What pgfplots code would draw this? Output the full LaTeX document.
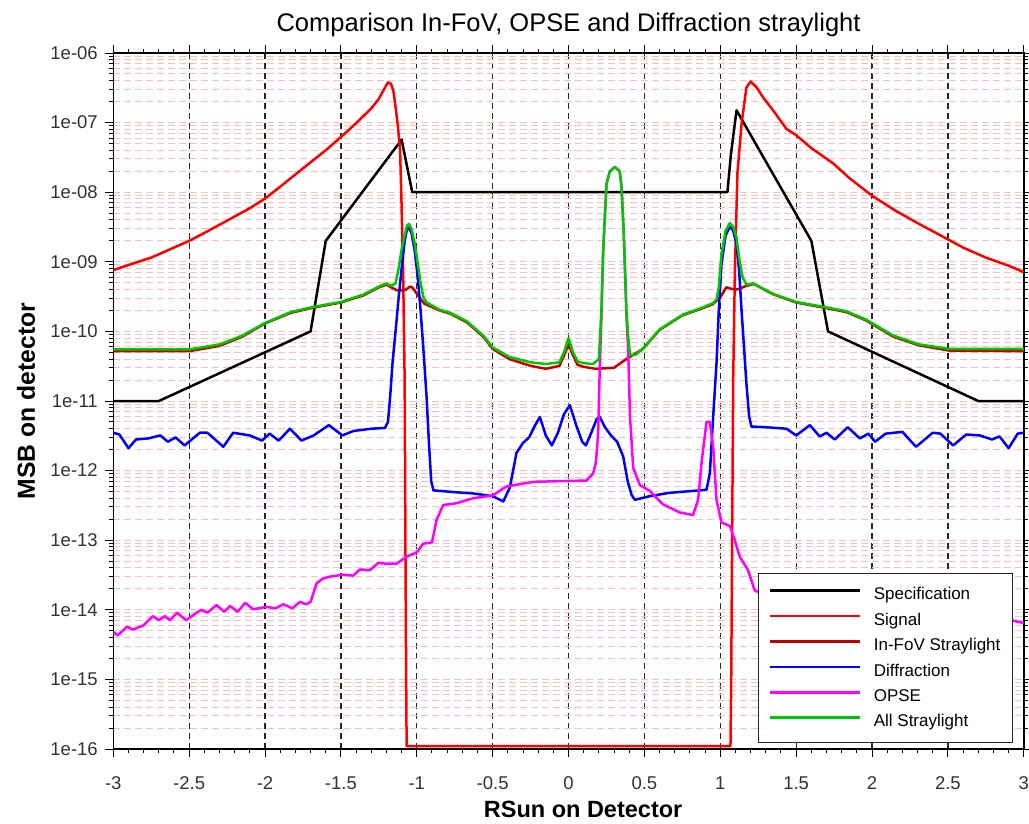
\documentclass[border=0pt]{standalone}
\usepackage{fontspec}
\setmainfont{Liberation Sans}
\usepackage{pgfplots}
\pgfplotsset{compat=1.18}
\definecolor{specc}{RGB}{0,0,0}
\definecolor{sigc}{RGB}{255,0,0}
\definecolor{infovc}{RGB}{200,0,0}
\definecolor{diffc}{RGB}{0,0,255}
\definecolor{opsec}{RGB}{255,0,255}
\definecolor{allc}{RGB}{0,200,0}
\definecolor{pinkgrid}{RGB}{255,190,190}
\definecolor{tickc}{RGB}{50,50,50}
\begin{document}
\begin{tikzpicture}[x=1pt,y=1pt]
\path[use as bounding box] (0,0) rectangle (1029,824);
\begin{axis}[
  at={(113.3pt,75pt)}, anchor=south west,
  scale only axis, width=910.5pt, height=696pt,
  xmin=-3, xmax=3, ymode=log, ymin=1e-16, ymax=1e-6,
  xtick={-3,-2.5,-2,-1.5,-1,-0.5,0,0.5,1,1.5,2,2.5,3},
  xticklabels={-3,-2.5,-2,-1.5,-1,-0.5,0,0.5,1,1.5,2,2.5,3},
  minor x tick num=4,
  ytick={1e-16,1e-15,1e-14,1e-13,1e-12,1e-11,1e-10,1e-9,1e-8,1e-7,1e-6},
  yticklabels={1e-16,1e-15,1e-14,1e-13,1e-12,1e-11,1e-10,1e-09,1e-08,1e-07,1e-06},
  tick align=outside, tick pos=both,
  major tick length=8pt, minor tick length=4pt,
  every tick/.style={black, line width=1pt},
  axis line style={black, line width=1.5pt},
  xmajorgrids, ymajorgrids, yminorgrids,
  major x grid style={black!85, dash pattern=on 6pt off 4pt, line width=1.2pt},
  major y grid style={pinkgrid, dash pattern=on 7pt off 4pt, line width=1pt},
  minor y grid style={pinkgrid, dash pattern=on 7pt off 4pt, line width=1pt},
  ticklabel style={font=\fontsize{18.5}{20}\selectfont, text=tickc},
  xticklabel style={anchor=base, yshift=-33pt},
  yticklabel style={anchor=east, xshift=-4pt},
  title={Comparison In-FoV, OPSE and Diffraction straylight},
  title style={at={(0.5,1)}, anchor=base, yshift=16pt, font=\fontsize{25.5}{28}\selectfont},
  xlabel={RSun on Detector},
  ylabel={MSB on detector},
  xlabel style={at={(0.516,-0.0977)}, anchor=base, font=\bfseries\fontsize{23.5}{26}\selectfont},
  ylabel style={at={(-0.086,0.5)}, anchor=base, font=\bfseries\fontsize{24.7}{27}\selectfont},
  legend style={at={(0.708,0.009)}, anchor=south west, draw=black!85, line width=1.2pt, fill=white,
    font=\fontsize{17}{20}\selectfont, inner xsep=10pt, inner ysep=12pt, row sep=7.7pt},
  legend cell align=left,
  legend image code/.code={\draw[#1, line width=2.6pt] (0pt,0.35em) -- (90pt,0.35em); \path[draw=none] (0pt,0.35em) -- (102pt,0.35em);},
  every axis plot post/.append style={line width=2.5pt, line join=round},
]
% Specification
\addplot[specc] coordinates {(-3,1e-11) (-2.7,1e-11) (-1.7,1e-10) (-1.6,2e-9) (-1.1,5.7e-8) (-1.03,1e-8) (1.047,1e-8) (1.07,3.5e-8) (1.107,1.5e-7) (1.6,2e-9) (1.71,1e-10) (2.7,1e-11) (3,1e-11)};
\addlegendentry{Specification}
% Signal
\addplot[sigc, line width=2.9pt] coordinates {(-3,7.6e-10) (-2.9,9e-10) (-2.75,1.15e-9) (-2.6,1.6e-9) (-2.5,2.0e-9) (-2.4,2.6e-9) (-2.25,3.9e-9) (-2.1,5.9e-9) (-2.0,8.1e-9) (-1.9,1.2e-8) (-1.75,2.2e-8) (-1.6,4e-8) (-1.5,6.2e-8) (-1.4,9.8e-8) (-1.3,1.6e-7) (-1.25,2.2e-7) (-1.22,2.9e-7) (-1.19,3.8e-7) (-1.17,3.6e-7) (-1.155,2.9e-7) (-1.14,1.7e-7) (-1.125,9e-8) (-1.11,4e-8) (-1.1,6e-9) (-1.09,7e-10) (-1.08,2e-11) (-1.075,1e-13) (-1.07,1e-15) (-1.067,1.1e-16) (1.067,1.1e-16) (1.072,1e-15) (1.078,1e-13) (1.085,2e-11) (1.096,7e-10) (1.113,1.9e-8) (1.14,9.5e-8) (1.172,3.2e-7) (1.2,3.9e-7) (1.24,3.2e-7) (1.282,2.3e-7) (1.348,1.5e-7) (1.436,8.1e-8) (1.5,6.6e-8) (1.6,4.3e-8) (1.743,2.6e-8) (1.85,1.6e-8) (2.0,8.9e-9) (2.15,5.5e-9) (2.3,3.6e-9) (2.5,2.1e-9) (2.6,1.6e-9) (2.75,1.15e-9) (2.9,8.8e-10) (3.0,7.1e-10)};
\addlegendentry{Signal}
% In-FoV Straylight
\addplot[infovc] coordinates {(-3,5.2e-11) (-2.5,5.2e-11) (-2.3,6.2e-11) (-2.15,8.4e-11) (-2.0,1.3e-10) (-1.83,1.85e-10) (-1.68,2.2e-10) (-1.5,2.6e-10) (-1.35,3.3e-10) (-1.25,4.3e-10) (-1.2,4.7e-10) (-1.16,4.2e-10) (-1.13,3.9e-10) (-1.1,3.9e-10) (-1.07,4.0e-10) (-1.045,4.4e-10) (-1.03,4.3e-10) (-1.0,3.5e-10) (-0.975,2.9e-10) (-0.95,2.5e-10) (-0.85,2.0e-10) (-0.78,1.8e-10) (-0.67,1.35e-10) (-0.56,8.3e-11) (-0.5,5.6e-11) (-0.39,4.0e-11) (-0.25,3.2e-11) (-0.15,2.9e-11) (-0.06,3.2e-11) (-0.03,4.5e-11) (0,6.5e-11) (0.03,4.5e-11) (0.06,3.3e-11) (0.1,3.1e-11) (0.18,2.9e-11) (0.3,3.0e-11) (0.38,4.0e-11) (0.49,5.6e-11) (0.6,1.05e-10) (0.75,1.7e-10) (0.87,2.1e-10) (0.95,2.45e-10) (1.0,3.1e-10) (1.04,4.3e-10) (1.07,4.1e-10) (1.11,4.0e-10) (1.17,4.5e-10) (1.22,4.8e-10) (1.35,3.4e-10) (1.5,2.6e-10) (1.68,2.2e-10) (1.83,1.9e-10) (1.96,1.44e-10) (2.14,8.4e-11) (2.31,6.3e-11) (2.51,5.3e-11) (3.0,5.2e-11)};
\addlegendentry{In-FoV Straylight}
% Diffraction
\addplot[diffc, line width=2.9pt] coordinates {(-3,3.5e-12) (-2.96,3.3e-12) (-2.90,2.1e-12) (-2.85,2.8e-12) (-2.77,2.9e-12) (-2.69,3.2e-12) (-2.64,2.6e-12) (-2.59,3.0e-12) (-2.53,2.3e-12) (-2.43,3.5e-12) (-2.38,3.5e-12) (-2.275,2.2e-12) (-2.21,3.5e-12) (-2.10,3.2e-12) (-2.02,2.7e-12) (-1.97,3.4e-12) (-1.91,2.7e-12) (-1.836,4e-12) (-1.76,2.7e-12) (-1.68,3.2e-12) (-1.58,4.5e-12) (-1.49,3.2e-12) (-1.42,3.7e-12) (-1.3,4e-12) (-1.21,4.1e-12) (-1.19,5e-12) (-1.175,1.2e-11) (-1.16,3.5e-11) (-1.14,1e-10) (-1.12,3e-10) (-1.10,8e-10) (-1.08,2e-9) (-1.065,2.9e-9) (-1.052,3.1e-9) (-1.035,2.6e-9) (-1.015,1.5e-9) (-0.995,6.5e-10) (-0.975,2e-10) (-0.955,5e-11) (-0.935,1.1e-11) (-0.92,2.5e-12) (-0.905,7e-13) (-0.89,5.2e-13) (-0.75,4.9e-13) (-0.63,4.7e-13) (-0.5,4.3e-13) (-0.43,3.6e-13) (-0.387,5.7e-13) (-0.343,1.8e-12) (-0.30,2.5e-12) (-0.26,3e-12) (-0.22,4.5e-12) (-0.189,5.9e-12) (-0.15,3.2e-12) (-0.11,2.3e-12) (-0.07,3.5e-12) (-0.03,6.5e-12) (0.009,8.7e-12) (0.05,4.5e-12) (0.09,2.6e-12) (0.114,2.3e-12) (0.15,3.5e-12) (0.185,5.5e-12) (0.206,5.9e-12) (0.24,4.2e-12) (0.28,3.2e-12) (0.32,2.6e-12) (0.36,1.6e-12) (0.39,7e-13) (0.415,4.5e-13) (0.437,3.8e-13) (0.536,4.3e-13) (0.667,4.8e-13) (0.909,5.3e-13) (0.931,9.1e-13) (0.953,5.9e-12) (0.975,3.5e-11) (0.99,2e-10) (1.008,9.3e-10) (1.035,2.4e-9) (1.063,3.2e-9) (1.085,2.8e-9) (1.107,1.8e-9) (1.125,7e-10) (1.14,2e-10) (1.172,1.8e-11) (1.19,6e-12) (1.205,4.3e-12) (1.30,4.2e-12) (1.436,4e-12) (1.5,3.2e-12) (1.59,4.5e-12) (1.655,3.1e-12) (1.70,3.5e-12) (1.754,2.8e-12) (1.84,4.2e-12) (1.92,2.9e-12) (1.975,3.4e-12) (2.02,2.6e-12) (2.09,3.4e-12) (2.20,3.6e-12) (2.29,2.2e-12) (2.40,3.5e-12) (2.45,3.4e-12) (2.535,2.3e-12) (2.62,3.3e-12) (2.71,3.2e-12) (2.79,2.8e-12) (2.84,3.1e-12) (2.90,2.1e-12) (2.96,3.4e-12) (3.0,3.5e-12)};
\addlegendentry{Diffraction}
% OPSE
\addplot[opsec] coordinates {(-3,4.8e-15) (-2.97,4.3e-15) (-2.91,5.7e-15) (-2.87,5.2e-15) (-2.80,6e-15) (-2.74,8.1e-15) (-2.70,7.1e-15) (-2.66,8.1e-15) (-2.626,7.1e-15) (-2.58,9.1e-15) (-2.52,7.1e-15) (-2.45,9.1e-15) (-2.42,1e-14) (-2.38,9.1e-15) (-2.32,1.17e-14) (-2.27,9.4e-15) (-2.23,1.13e-14) (-2.18,9.4e-15) (-2.13,1.26e-14) (-2.08,1.02e-14) (-1.99,1.1e-14) (-1.93,1.05e-14) (-1.88,1.2e-14) (-1.82,1.05e-14) (-1.77,1.3e-14) (-1.73,1.2e-14) (-1.70,1.3e-14) (-1.66,2.4e-14) (-1.62,2.8e-14) (-1.57,3.0e-14) (-1.485,3.2e-14) (-1.42,3.1e-14) (-1.375,3.8e-14) (-1.31,3.7e-14) (-1.254,4.7e-14) (-1.2,4.6e-14) (-1.133,4.6e-14) (-1.067,5.8e-14) (-1.0,6.7e-14) (-0.958,8.9e-14) (-0.9,9.3e-14) (-0.87,1.95e-13) (-0.826,3.2e-13) (-0.738,3.4e-13) (-0.63,4.0e-13) (-0.5,4.4e-13) (-0.41,5.9e-13) (-0.233,6.9e-13) (0.118,7.2e-13) (0.162,9.1e-13) (0.18,1.3e-12) (0.195,3.4e-12) (0.206,3.1e-11) (0.217,1.8e-10) (0.228,1.4e-9) (0.25,1.3e-8) (0.272,2e-8) (0.305,2.3e-8) (0.337,2e-8) (0.349,1.2e-8) (0.364,2.5e-9) (0.382,1.6e-10) (0.393,5.4e-11) (0.405,5.9e-12) (0.426,1.1e-12) (0.47,6.2e-13) (0.536,5.1e-13) (0.62,3.3e-13) (0.733,2.5e-13) (0.82,2.3e-13) (0.854,3.8e-13) (0.876,1.26e-12) (0.909,5.0e-12) (0.931,5.0e-12) (0.953,2.2e-12) (0.975,3.8e-13) (1.008,1.8e-13) (1.063,1.6e-13) (1.096,1e-13) (1.128,5.8e-14) (1.183,3.7e-14) (1.227,1.9e-14) (1.3,1.6e-14) (1.5,1.4e-14) (1.8,1.2e-14) (2.1,1.0e-14) (2.4,9e-15) (2.7,8e-15) (2.93,7e-15) (2.95,6.8e-15) (3.0,6.5e-15)};
\addlegendentry{OPSE}
% All Straylight
\addplot[allc] coordinates {(-3,5.5e-11) (-2.5,5.5e-11) (-2.3,6.5e-11) (-2.15,8.7e-11) (-2.0,1.32e-10) (-1.83,1.9e-10) (-1.68,2.25e-10) (-1.5,2.65e-10) (-1.35,3.4e-10) (-1.25,4.4e-10) (-1.2,4.9e-10) (-1.17,4.5e-10) (-1.14,4.9e-10) (-1.12,8e-10) (-1.10,1.5e-9) (-1.08,2.4e-9) (-1.065,3.3e-9) (-1.052,3.5e-9) (-1.035,3.0e-9) (-1.015,1.9e-9) (-0.995,1e-9) (-0.975,5e-10) (-0.955,3e-10) (-0.935,2.6e-10) (-0.85,2.05e-10) (-0.78,1.85e-10) (-0.67,1.4e-10) (-0.56,8.6e-11) (-0.5,5.9e-11) (-0.39,4.3e-11) (-0.25,3.6e-11) (-0.15,3.4e-11) (-0.06,3.6e-11) (-0.03,5e-11) (0,8e-11) (0.03,5e-11) (0.06,3.7e-11) (0.1,3.5e-11) (0.16,3.4e-11) (0.2,4e-11) (0.206,7e-11) (0.217,2.1e-10) (0.228,1.4e-9) (0.25,1.3e-8) (0.272,2e-8) (0.305,2.3e-8) (0.337,2e-8) (0.349,1.2e-8) (0.364,2.5e-9) (0.382,1.9e-10) (0.393,8.5e-11) (0.405,4.6e-11) (0.44,4.6e-11) (0.49,5.6e-11) (0.6,1.07e-10) (0.755,1.75e-10) (0.87,2.15e-10) (0.953,2.55e-10) (0.975,2.9e-10) (0.99,4.3e-10) (1.008,1.3e-9) (1.035,2.8e-9) (1.063,3.6e-9) (1.085,3.2e-9) (1.107,2.2e-9) (1.125,1.1e-9) (1.147,6e-10) (1.172,4.7e-10) (1.216,4.9e-10) (1.35,3.45e-10) (1.5,2.65e-10) (1.68,2.25e-10) (1.83,1.95e-10) (1.96,1.48e-10) (2.14,8.7e-11) (2.31,6.5e-11) (2.51,5.6e-11) (3.0,5.6e-11)};
\addlegendentry{All Straylight}
\end{axis}
\end{tikzpicture}
\end{document}
